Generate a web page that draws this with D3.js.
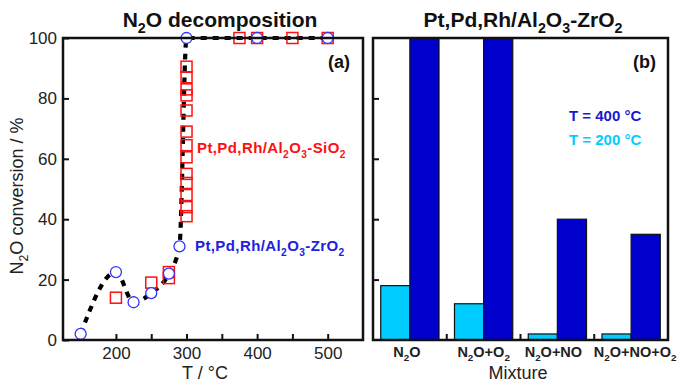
<!DOCTYPE html>
<html>
<head>
<meta charset="utf-8">
<script src="https://cdn.jsdelivr.net/npm/d3@7"></script>
<style>
  body { margin: 0; background: #fff; }
  svg { display: block; font-family: "Liberation Sans", Arial, sans-serif; }
</style>
</head>
<body>
<svg id="chart" width="679" height="383"></svg>
<script>
// panel (a) data: N2O conversion vs temperature
const siT = [200, 250, 275, 275, 300, 300, 300, 300, 300, 300, 300, 300, 300, 300, 300, 300, 300, 375, 400, 450, 500];
const siConv = [14, 19, 20.5, 22.5, 41, 44, 48, 52, 55, 60.5, 64.5, 69, 76, 81, 83, 87, 90.5, 100, 100, 100, 100];
const zrT = [150, 200, 225, 250, 275, 290, 300, 400, 500];
const zrConv = [2, 22.5, 12.5, 15.5, 22, 31, 100, 100, 100];

// panel (b) data: conversion per gas mixture
const mixtures = ["N2O", "N2O+O2", "N2O+NO", "N2O+NO+O2"];
const conv200 = [18, 12, 2, 2];
const conv400 = [100, 100, 40, 35];

// ticks
const yTicks = [0, 20, 40, 60, 80, 100];
const xTicksA = [150, 200, 250, 300, 350, 400, 450, 500];

// layout
const plotTop = 38, plotBottom = 340;
const aLeft = 63, aRight = 363;
const bLeft = 373, bRight = 668;
const labelShift = [-3, 0, -4, 4]; // nudges for the mixture labels so they don't collide

const red = "#ff1010";
const blue = "#2020dd";
const dark = "#0000cc";
const light = "#00ccff";

const svg = d3.select("#chart");

// write text where digits right after a letter become subscripts
function chem(sel, str, size) {
  let prevSub = false;
  str.split(/(?<=[A-Za-z])(\d+)/).forEach((p, i) => {
    if (p === "") return;
    const isSub = i % 2 === 1;
    const t = sel.append("tspan").text(p);
    if (isSub) {
      t.attr("font-size", size * 0.68).attr("dy", size * 0.3);
    } else if (prevSub) {
      t.attr("dy", -size * 0.3);
    }
    prevSub = isSub;
  });
}

const y = d3.scaleLinear().domain([0, 100]).range([plotBottom, plotTop]);
const xA = d3.scaleLinear().domain([125, 550]).range([aLeft, aRight]);

// ---------- panel (a) ----------
const gA = svg.append("g");

gA.append("g")
  .attr("transform", `translate(${aLeft},0)`)
  .call(d3.axisLeft(y).tickValues(yTicks).tickSize(-6).tickPadding(6))
  .call(g => g.select(".domain").remove())
  .call(g => g.selectAll("line").attr("stroke", "#111").attr("stroke-width", 2))
  .call(g => g.selectAll("text").attr("font-size", 17).attr("fill", "#222")
    .attr("font-family", "Liberation Sans, Arial, sans-serif"));

gA.append("g")
  .attr("transform", `translate(0,${plotBottom})`)
  .call(d3.axisBottom(xA).tickValues(xTicksA).tickSize(-6).tickPadding(7)
    .tickFormat(d => d % 100 === 0 && d > 150 ? d : ""))
  .call(g => g.select(".domain").remove())
  .call(g => g.selectAll("line").attr("stroke", "#111").attr("stroke-width", 2))
  .call(g => g.selectAll("text").attr("font-size", 17).attr("fill", "#222")
    .attr("font-family", "Liberation Sans, Arial, sans-serif"));

// dashed trend through the ZrO2 points
const zrPts = zrT.map((t, i) => [t, zrConv[i]]);
const line = d3.line().x(d => xA(d[0])).y(d => y(d[1])).curve(d3.curveMonotoneX);
gA.append("path")
  .attr("d", line(zrPts))
  .attr("fill", "none")
  .attr("stroke", "#000")
  .attr("stroke-width", 4.2)
  .attr("stroke-dasharray", "6 6");

const sq = 11;
gA.selectAll(".sq")
  .data(siT.map((t, i) => [t, siConv[i]]))
  .join("rect")
  .attr("class", "sq")
  .attr("x", d => xA(d[0]) - sq / 2)
  .attr("y", d => y(d[1]) - sq / 2)
  .attr("width", sq)
  .attr("height", sq)
  .attr("fill", "none")
  .attr("stroke", red)
  .attr("stroke-width", 1.5);

gA.selectAll(".pt")
  .data(zrPts)
  .join("circle")
  .attr("class", "pt")
  .attr("cx", d => xA(d[0]))
  .attr("cy", d => y(d[1]))
  .attr("r", 5.5)
  .attr("fill", "#fff")
  .attr("stroke", "#3333ff")
  .attr("stroke-width", 1.3);

gA.append("rect")
  .attr("x", aLeft).attr("y", plotTop)
  .attr("width", aRight - aLeft).attr("height", plotBottom - plotTop)
  .attr("fill", "none").attr("stroke", "#111").attr("stroke-width", 2.5);

chem(gA.append("text").attr("x", 220).attr("y", 27).attr("text-anchor", "middle")
  .attr("font-size", 21).attr("font-weight", "bold").attr("fill", "#111"), "N2O decomposition", 21);

gA.append("text").attr("x", 350).attr("y", 68).attr("text-anchor", "end")
  .attr("font-size", 18).attr("font-weight", "bold").attr("fill", "#111").text("(a)");

chem(gA.append("text").attr("x", 197).attr("y", 153).attr("letter-spacing", 0.4)
  .attr("font-size", 15).attr("font-weight", "bold").attr("fill", red), "Pt,Pd,Rh/Al2O3-SiO2", 15);

chem(gA.append("text").attr("x", 195).attr("y", 251).attr("letter-spacing", 0.4)
  .attr("font-size", 15).attr("font-weight", "bold").attr("fill", blue), "Pt,Pd,Rh/Al2O3-ZrO2", 15);

gA.append("text").attr("x", 205).attr("y", 379).attr("text-anchor", "middle")
  .attr("font-size", 18).attr("fill", "#222").text("T / °C");

chem(gA.append("text").attr("transform", "translate(23,196) rotate(-90)")
  .attr("text-anchor", "middle").attr("font-size", 18).attr("fill", "#222"),
  "N2O conversion / %", 18);

// ---------- panel (b) ----------
const gB = svg.append("g");

const xB = d3.scaleBand().domain(mixtures).range([bLeft, bRight])
  .paddingInner(0.21).paddingOuter(0.105);
const xSub = d3.scaleBand().domain(["200", "400"]).range([0, xB.bandwidth()]);

gB.append("g")
  .attr("transform", `translate(${bLeft},0)`)
  .call(d3.axisLeft(y).tickValues([20, 40, 60, 80]).tickSize(-6).tickFormat(""))
  .call(g => g.select(".domain").remove())
  .call(g => g.selectAll("line").attr("stroke", "#111").attr("stroke-width", 2));

// group separators on the bottom axis
gB.selectAll(".sep")
  .data(mixtures.slice(1))
  .join("line")
  .attr("class", "sep")
  .attr("x1", d => xB(d) - xB.step() * 0.105)
  .attr("x2", d => xB(d) - xB.step() * 0.105)
  .attr("y1", plotBottom).attr("y2", plotBottom - 6)
  .attr("stroke", "#111").attr("stroke-width", 2);

const bars = mixtures.flatMap((m, i) => [
  { m, t: "200", v: conv200[i], c: light },
  { m, t: "400", v: conv400[i], c: dark }
]);

gB.selectAll(".bar")
  .data(bars)
  .join("rect")
  .attr("class", "bar")
  .attr("x", d => xB(d.m) + xSub(d.t))
  .attr("y", d => y(d.v))
  .attr("width", xSub.bandwidth())
  .attr("height", d => plotBottom - y(d.v))
  .attr("fill", d => d.c)
  .attr("stroke", "#111")
  .attr("stroke-width", 1.2);

gB.append("rect")
  .attr("x", bLeft).attr("y", plotTop)
  .attr("width", bRight - bLeft).attr("height", plotBottom - plotTop)
  .attr("fill", "none").attr("stroke", "#111").attr("stroke-width", 2.5);

mixtures.forEach((m, i) => {
  chem(gB.append("text").attr("x", xB(m) + xB.bandwidth() / 2 + labelShift[i]).attr("y", 357)
    .attr("text-anchor", "middle").attr("font-size", 14.5).attr("font-weight", "bold")
    .attr("fill", "#222"), m, 14.5);
});

gB.append("text").attr("x", 518).attr("y", 379).attr("text-anchor", "middle")
  .attr("font-size", 18).attr("fill", "#222").text("Mixture");

chem(gB.append("text").attr("x", 523).attr("y", 27).attr("text-anchor", "middle")
  .attr("font-size", 21).attr("font-weight", "bold").attr("fill", "#111"), "Pt,Pd,Rh/Al2O3-ZrO2", 21);

gB.append("text").attr("x", 656).attr("y", 68).attr("text-anchor", "end")
  .attr("font-size", 18).attr("font-weight", "bold").attr("fill", "#111").text("(b)");

gB.append("text").attr("x", 569).attr("y", 121).attr("font-size", 15)
  .attr("font-weight", "bold").attr("fill", "#1a1acc").text("T = 400 °C");
gB.append("text").attr("x", 569).attr("y", 145).attr("font-size", 15)
  .attr("font-weight", "bold").attr("fill", light).text("T = 200 °C");
</script>
</body>
</html>
